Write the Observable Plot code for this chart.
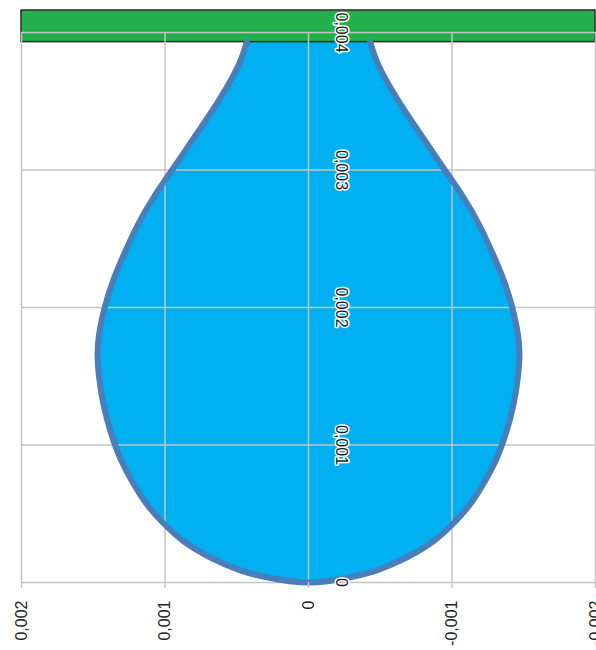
<!DOCTYPE html>
<html><head><meta charset="utf-8">
<script src="https://cdn.jsdelivr.net/npm/d3@7"></script>
<script src="https://cdn.jsdelivr.net/npm/@observablehq/plot@0.6"></script>
<style>body{margin:0;background:#fff;font-family:"Liberation Sans",Arial,sans-serif}</style>
</head><body><div id="chart"></div>
<script>
// Drop profile: height above apex (z) and radius (r)
const heights = [0, 0.00004, 0.00009, 0.00018, 0.00030, 0.00042, 0.00056, 0.00072, 0.00090, 0.00110, 0.00130, 0.00150, 0.00165, 0.00180, 0.00200, 0.00220, 0.00240, 0.00260, 0.00280, 0.00300, 0.00320, 0.00340, 0.00360, 0.00378, 0.00393];
const radii   = [0, 0.00030, 0.00048, 0.00068, 0.00087, 0.00100, 0.00112, 0.00122, 0.00131, 0.00138, 0.00143, 0.00146, 0.00147, 0.00146, 0.00142, 0.00136, 0.00128, 0.00119, 0.00108, 0.00095, 0.00082, 0.00069, 0.00057, 0.00048, 0.00043];
const xTicks = [0.002, 0.001, 0, -0.001, -0.002];
const yTicks = [0, 0.001, 0.002, 0.003, 0.004];
const plate = [{x1: 0.002, x2: -0.002, y1: 0.00393, y2: 0.00416}];

const fmt = d => String(d).replace(".", ",");

const profile = heights.map((z, i) => ({z, r: radii[i]}));
const outline = [
  ...profile.map(p => ({x: p.r, y: p.z})).reverse(),
  ...profile.slice(1).map(p => ({x: -p.r, y: p.z}))
];

const chart = Plot.plot({
  width: 596,
  height: 650,
  marginLeft: 21,
  marginRight: 1,
  marginTop: 10,
  marginBottom: 68,
  style: {fontFamily: '"Liberation Sans", Arial, sans-serif', fontSize: "16px", background: "#fff"},
  x: {domain: [0.002, -0.002], label: null},
  y: {domain: [0, 0.00416], axis: null, label: null},
  marks: [
    Plot.areaX(profile, {y: "z", x1: d => -d.r, x2: d => d.r, fill: "#00b0f0", curve: "natural"}),
    Plot.rect(plate, {x1: "x1", x2: "x2", y1: "y1", y2: "y2", fill: "#22b14c", stroke: "#2a2a2a", strokeWidth: 1.5}),
    Plot.ruleX(xTicks, {x: d => d, y1: 0, y2: 0.004, stroke: "#c4c4c4", strokeWidth: 1.5, strokeOpacity: 1}),
    Plot.ruleY(yTicks, {y: d => d, x1: 0.002, x2: -0.002, stroke: "#c4c4c4", strokeWidth: 1.5, strokeOpacity: 1}),
    Plot.line(outline, {x: "x", y: "y", stroke: "#4a7ebb", strokeWidth: 6, curve: "natural", strokeLinecap: "round", strokeLinejoin: "round"}),
    Plot.axisX({ticks: xTicks, tickFormat: fmt, tickRotate: -90, tickSize: 6, tickPadding: 12, stroke: "#c4c4c4", strokeWidth: 1.5, strokeOpacity: 1, fill: "#222", fontSize: 16, label: null}),
    Plot.text(yTicks, {x: () => 0, y: d => d, text: fmt, rotate: 90, dx: 33, fontSize: 16, fill: "#1a1a1a", stroke: "white", strokeWidth: 3})
  ]
});
document.getElementById("chart").appendChild(chart);
</script>
</body></html>
